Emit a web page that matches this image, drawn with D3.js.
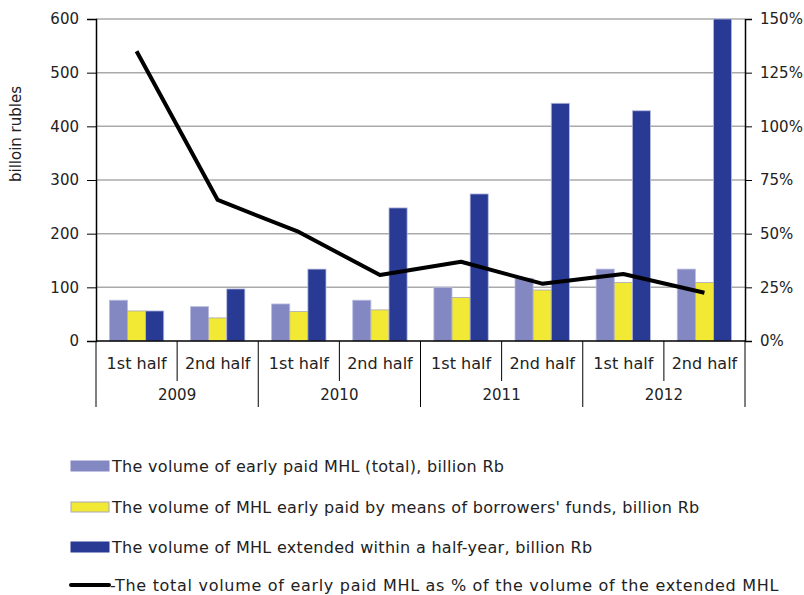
<!DOCTYPE html>
<html>
<head>
<meta charset="utf-8">
<script src="https://cdn.jsdelivr.net/npm/d3@7"></script>
<style>
  body { margin: 0; background: #fff; }
  text { font-family: "DejaVu Sans", sans-serif; fill: #222; }
</style>
</head>
<body>
<div id="chart"></div>
<script>
// data
let years = ["2009", "2010", "2011", "2012"]
let halves = ["1st half", "2nd half"]
let earlyTotal = [76, 64, 69, 76, 100, 117, 134, 134]
let earlyBorrowers = [56, 43, 55, 58, 81, 95, 109, 109]
let extended = [56, 97, 134, 248, 274, 443, 429, 600]
let sharePct = [135, 65.7, 50.8, 30.7, 36.9, 26.7, 31.2, 22.5]
let leftTicks = [0, 100, 200, 300, 400, 500, 600]
let rightTicks = [0, 25, 50, 75, 100, 125, 150]

let seriesNames = [
  "The volume of early paid MHL (total), billion Rb",
  "The volume of MHL early paid by means of borrowers' funds, billion Rb",
  "The volume of MHL extended within a half-year, billion Rb"
]
let lineName = "-The total volume of early paid MHL as % of the volume of the extended MHL"
let colors = ["#8388c2", "#f2e935", "#283a94"]
let strokes = ["#b9bce0", "#a8a8b8", "#b9bce0"]

let width = 804,
    height = 595
let m = { left: 96, right: 745, top: 19, bottom: 341 }

// periods = year x half
let periods = []
years.forEach(y => halves.forEach(h => periods.push(y + "|" + h)))

let svg = d3.select("#chart").append("svg")
  .attr("width", width)
  .attr("height", height)

let x0 = d3.scaleBand()
  .domain(periods)
  .range([m.left, m.right])
  .paddingInner(0.33)
  .paddingOuter(0.165)

let step = x0.step()

let x1 = d3.scaleBand()
  .domain([0, 1, 2])
  .range([0, x0.bandwidth()])

let y = d3.scaleLinear().domain([0, 600]).range([m.bottom, m.top])
let yr = d3.scaleLinear().domain([0, 150]).range([m.bottom, m.top])

// gridlines
svg.append("g")
  .selectAll("line")
  .data(leftTicks.filter(d => d > 0))
  .enter().append("line")
  .attr("x1", m.left).attr("x2", m.right)
  .attr("y1", d => y(d)).attr("y2", d => y(d))
  .attr("stroke", "#aaaaaa")
  .attr("stroke-width", 1.5)

// bars
let series = [earlyTotal, earlyBorrowers, extended]
let g = svg.append("g")
series.forEach((vals, s) => {
  g.selectAll(".bar" + s)
    .data(vals)
    .enter().append("rect")
    .attr("class", "bar" + s)
    .attr("x", (d, i) => x0(periods[i]) + x1(s))
    .attr("width", x1.bandwidth())
    .attr("y", d => y(d))
    .attr("height", d => y(0) - y(d))
    .attr("fill", colors[s])
    .attr("stroke", strokes[s])
    .attr("stroke-width", 0.8)
})

// line on right axis
let line = d3.line()
  .x((d, i) => x0(periods[i]) + x0.bandwidth() / 2)
  .y(d => yr(d))

svg.append("path")
  .datum(sharePct)
  .attr("d", line)
  .attr("fill", "none")
  .attr("stroke", "#000")
  .attr("stroke-width", 4)
  .attr("stroke-linejoin", "round")

// left axis
let leftAxis = svg.append("g")
  .attr("transform", "translate(" + m.left + ",0)")
  .call(d3.axisLeft(y).tickValues(leftTicks).tickSize(9).tickPadding(8))
leftAxis.select(".domain").attr("stroke", "#000").attr("stroke-width", 1.5)
leftAxis.selectAll(".tick line").attr("stroke", "#000")
leftAxis.selectAll("text").style("font-size", "15px").attr("fill", "#222")

// right axis
let rightAxis = svg.append("g")
  .attr("transform", "translate(" + m.right + ",0)")
  .call(d3.axisRight(yr).tickValues(rightTicks).tickSize(7).tickPadding(8).tickFormat(d => d + "%"))
rightAxis.select(".domain").attr("stroke", "#000").attr("stroke-width", 1.5)
rightAxis.selectAll(".tick line").attr("stroke", "#000")
rightAxis.selectAll("text").style("font-size", "15px").attr("fill", "#222")

// y title
svg.append("text")
  .attr("transform", "translate(21,134) rotate(-90)")
  .attr("text-anchor", "middle")
  .style("font-size", "15px")
  .text("billoin rubles")

// category axis
let xa = svg.append("g")
xa.append("line")
  .attr("x1", m.left).attr("x2", m.right)
  .attr("y1", m.bottom).attr("y2", m.bottom)
  .attr("stroke", "#000").attr("stroke-width", 1.5)

// dividers: between halves short, between years long
d3.range(periods.length + 1).forEach(i => {
  let xx = m.left + i * step
  let long = i % 2 === 0
  xa.append("line")
    .attr("x1", xx).attr("x2", xx)
    .attr("y1", m.bottom).attr("y2", long ? 407 : 381)
    .attr("stroke", "#000").attr("stroke-width", 1)
})

xa.selectAll(".half")
  .data(periods)
  .enter().append("text")
  .attr("class", "half")
  .attr("x", d => x0(d) + x0.bandwidth() / 2)
  .attr("y", 369)
  .attr("text-anchor", "middle")
  .style("font-size", "16px")
  .text(d => d.split("|")[1])

xa.selectAll(".year")
  .data(years)
  .enter().append("text")
  .attr("class", "year")
  .attr("x", (d, i) => m.left + (i * 2 + 1) * step)
  .attr("y", 400)
  .attr("text-anchor", "middle")
  .style("font-size", "15px")
  .text(d => d)

// legend
let legendY = [466, 507, 547]
let legend = svg.append("g")
seriesNames.forEach((name, s) => {
  legend.append("rect")
    .attr("x", 71).attr("y", legendY[s] - 5)
    .attr("width", 38).attr("height", 10)
    .attr("fill", colors[s])
    .attr("stroke", s === 1 ? "#a8a8b8" : colors[s])
  legend.append("text")
    .attr("x", 112).attr("y", legendY[s] + 6)
    .style("font-size", "16px")
    .style("letter-spacing", "0.3px")
    .text(name)
})
legend.append("line")
  .attr("x1", 71).attr("x2", 109)
  .attr("y1", 585).attr("y2", 585)
  .attr("stroke", "#000").attr("stroke-width", 4)
  .attr("stroke-linecap", "round")
legend.append("text")
  .attr("x", 110).attr("y", 591)
  .style("font-size", "16px")
  .style("letter-spacing", "0.7px")
  .text(lineName)
</script>
</body>
</html>
